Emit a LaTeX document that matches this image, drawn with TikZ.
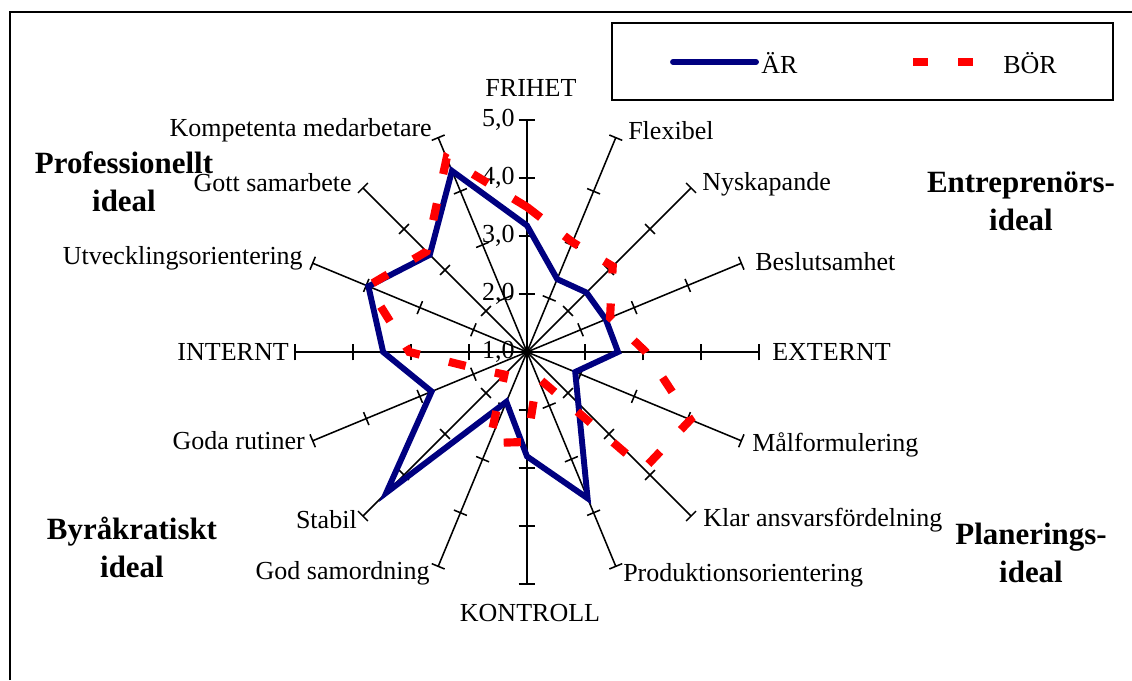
\documentclass[tikz,border=0pt]{standalone}
\usepackage{fontspec}
\setmainfont{Liberation Serif}
\usepackage{xcolor}
\definecolor{arblue}{RGB}{0,0,128}
\definecolor{borred}{RGB}{255,0,0}
\tikzset{
  axisline/.style={line width=1.1pt},
  mainaxis/.style={line width=1.5pt},
  majortick/.style={line width=2.1pt},
  arline/.style={line width=4.2pt, color=arblue},
  borline/.style={line width=5.8pt, color=borred, dash pattern=on 0.43cm off 0.75cm},
  lab/.style={font=\fontsize{18.5}{22}\selectfont, inner sep=0pt},
  idealtxt/.style={font=\fontsize{22}{27}\selectfont\bfseries, align=center, inner sep=0pt},
}

\begin{document}
\begin{tikzpicture}
\useasboundingbox (-13.175,-8.2) rectangle (15.125,8.8);

% frame
\draw[line width=1.4pt] (-12.925,-8.2) -- (-12.925,8.5) -- (15.125,8.5);

% legend
\node[draw, line width=1.1pt, minimum width=12.525cm, minimum height=1.925cm, inner sep=0pt] (legend) at (8.3875,7.2625) {};
\coordinate (arA) at (3.65,7.25);
\coordinate (arB) at (5.725,7.25);
\draw[arline, line cap=round] (arA) -- (arB);
\node[lab, anchor=west] (arlab) at (5.85,7.22) {ÄR};
\coordinate (borA) at (9.65,7.25);
\coordinate (borB) at (11.15,7.25);
\draw[borline, dash pattern=on 0.375cm off 0.75cm] (borA) -- (borB);
\node[lab, anchor=west] (borlab) at (11.9,7.22) {BÖR};

% axes
\coordinate (c) at (0,0);
\foreach \i in {0,...,15}
  \coordinate (ax\i) at ({90-22.5*\i}:5.8);
\foreach \i in {1,2,3,5,6,7,9,10,11,13,14,15} {
  \draw[axisline] (c) -- (ax\i);
  \foreach \k in {1,...,4}
    \draw[axisline, rotate={90-22.5*\i}] (\k*1.45,-0.175) -- (\k*1.45,0.175);
}
\draw[axisline] (ax12) -- (ax4);
\foreach \k in {-4,-3,-2,-1,1,2,3,4}
  \draw[axisline] (\k*1.45,-0.21) -- (\k*1.45,0.21);
\draw[mainaxis] (ax0) -- (ax8);
\foreach \k in {-4,-3,-2,-1,1,2,3,4}
  \draw[majortick] (-0.21,\k*1.45) -- (0.21,\k*1.45);

% scale
\foreach \k in {0,...,4}
  \node[lab, anchor=east] (tl\k) at (-0.3,\k*1.45) {\the\numexpr\k+1\relax,0};

% axis labels
\node[lab] (frihet) at (0.1,6.6) {FRIHET};
\node[lab, anchor=west] (flex) at (2.525,5.525) {Flexibel};
\node[lab, anchor=west] (nysk) at (4.375,4.2) {Nyskapande};
\node[lab, anchor=west] (besl) at (5.7,2.25) {Beslutsamhet};
\node[lab, anchor=west] (extern) at (6.125,0) {EXTERNT};
\node[lab, anchor=west] (malf) at (5.625,-2.325) {Målformulering};
\node[lab, anchor=west] (klar) at (4.4,-4.2) {Klar ansvarsfördelning};
\node[lab, anchor=west] (prod) at (2.4,-5.575) {Produktionsorientering};
\node[lab] (kontroll) at (0.075,-6.525) {KONTROLL};
\node[lab, anchor=east] (godsam) at (-2.425,-5.525) {God samordning};
\node[lab, anchor=east] (stabil) at (-4.25,-4.2) {Stabil};
\node[lab, anchor=east] (godarut) at (-5.55,-2.225) {Goda rutiner};
\node[lab, anchor=east] (intern) at (-5.95,0) {INTERNT};
\node[lab, anchor=east] (utveck) at (-5.6,2.35) {Utvecklingsorientering};
\node[lab, anchor=east] (gottsam) at (-4.375,4.225) {Gott samarbete};
\node[lab, anchor=east] (kompet) at (-2.375,5.55) {Kompetenta medarbetare};

% ideal types
\node[idealtxt] (prof) at (-10.075,4.25) {Professionellt\\ideal};
\node[idealtxt] (entr) at (12.35,3.775) {Entreprenörs-\\ideal};
\node[idealtxt] (byra) at (-9.875,-4.875) {Byråkratiskt\\ideal};
\node[idealtxt] (plan) at (12.6,-5.025) {Planerings-\\ideal};

% ÄR
\foreach \v [count=\i from 0] in {3.18,2.36,2.45,2.47,2.57,1.9,2.25,3.73,2.8,1.93,4.43,2.78,3.48,3.96,3.37,4.38}
  \coordinate (ar\i) at ({90-22.5*\i}:{(\v-1)*1.45});
\draw[arline] (ar0) \foreach \i in {1,...,15} {-- (ar\i)} -- cycle;

% BÖR
\foreach \v [count=\i from 0] in {3.5,3.05,3.09,2.55,3.05,4.05,3.85,1.47,2.55,2.7,1.55,1.82,3.03,3.97,3.45,4.62}
  \coordinate (bor\i) at ({90-22.5*\i}:{(\v-1)*1.45});
\draw[borline] (bor0) \foreach \i in {1,...,15} {-- (bor\i)} -- cycle;
\end{tikzpicture}
\end{document}
